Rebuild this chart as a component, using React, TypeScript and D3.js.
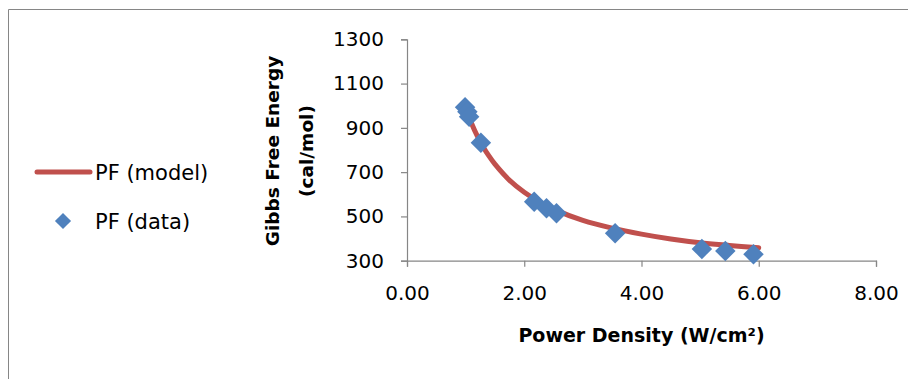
import * as d3 from "d3";
import { useEffect, useRef } from "react";

// measured points
const dataX = [0.99, 1.03, 1.06, 1.26, 2.17, 2.38, 2.55, 3.55, 5.03, 5.43, 5.91];
const dataY = [993, 973, 950, 833, 566, 537, 514, 424, 353, 344, 329];

// model curve
const modelX = [1.0, 1.1, 1.2, 1.3, 1.4, 1.5, 1.75, 2.0, 2.25, 2.5, 3.0, 3.5, 4.0, 4.5, 5.0, 5.5, 6.0];
const modelY = [992, 921, 863, 814, 772, 736, 663, 609, 567, 533, 482, 447, 420, 398, 381, 369, 358];

const xTicks = [0, 2, 4, 6, 8];
const yTicks = [300, 500, 700, 900, 1100, 1300];

const seriesNames = ["PF (model)", "PF (data)"];

const FONT = "'DejaVu Sans', sans-serif";
const AXIS_COLOR = "#868686";
const RED = "#C0504D";
const BLUE = "#4F81BD";

function App() {
	const ref = useRef<SVGSVGElement>(null);

	useEffect(() => {
		const svg = d3.select(ref.current);
		svg.selectAll("*").remove();

		const width = 908;
		const height = 371;

		// outer frame (only top and left edges are visible)
		svg.append("line")
			.attr("x1", 0.5).attr("y1", 1.5)
			.attr("x2", width).attr("y2", 1.5)
			.attr("stroke", AXIS_COLOR).attr("stroke-width", 1);
		svg.append("line")
			.attr("x1", 0.5).attr("y1", 1.5)
			.attr("x2", 0.5).attr("y2", height)
			.attr("stroke", AXIS_COLOR).attr("stroke-width", 1);

		const xScale = d3.scaleLinear().domain([0, 8]).range([399, 868]);
		const yScale = d3.scaleLinear().domain([300, 1300]).range([252.7, 31.3]);

		const xAxis = d3
			.axisBottom(xScale)
			.tickValues(xTicks)
			.tickSize(6)
			.tickPadding(19)
			.tickFormat(d3.format(".2f"));
		const yAxis = d3
			.axisLeft(yScale)
			.tickValues(yTicks)
			.tickSize(6)
			.tickPadding(17)
			.tickFormat(d3.format("d"));

		const gx = svg
			.append("g")
			.attr("transform", `translate(0,${yScale(300)})`)
			.call(xAxis);
		const gy = svg
			.append("g")
			.attr("transform", `translate(${xScale(0)},0)`)
			.call(yAxis);

		[gx, gy].forEach((g) => {
			g.select(".domain").attr("stroke", AXIS_COLOR).attr("stroke-width", 1.2);
			g.selectAll(".tick line").attr("stroke", AXIS_COLOR).attr("stroke-width", 1.2);
			g.selectAll(".tick text")
				.attr("fill", "#000")
				.style("font-family", FONT)
				.style("font-size", "20px");
		});

		// axis titles
		svg.append("text")
			.attr("x", xScale(4))
			.attr("y", 334)
			.attr("text-anchor", "middle")
			.style("font-family", FONT)
			.style("font-size", "19px")
			.style("font-weight", "bold")
			.text("Power Density (W/cm²)");

		const yTitle = svg
			.append("text")
			.attr("transform", `translate(265,143) rotate(-90)`)
			.attr("text-anchor", "middle")
			.style("font-family", FONT)
			.style("font-size", "18.5px")
			.style("font-weight", "bold");
		yTitle.append("tspan").attr("x", 0).attr("y", 6).text("Gibbs Free Energy");
		yTitle.append("tspan").attr("x", 0).attr("y", 40).text("(cal/mol)");

		// model line
		const line = d3
			.line<number>()
			.x((d, i) => xScale(modelX[i]))
			.y((d) => yScale(d))
			.curve(d3.curveCatmullRom);
		svg.append("path")
			.datum(modelY)
			.attr("d", line)
			.attr("fill", "none")
			.attr("stroke", RED)
			.attr("stroke-width", 5)
			.attr("stroke-linecap", "round");

		// data diamonds
		const diamond = d3.symbol().type(d3.symbolSquare).size(210);
		svg.selectAll(".pt")
			.data(dataY)
			.enter()
			.append("path")
			.attr("d", diamond)
			.attr("transform", (d, i) => `translate(${xScale(dataX[i])},${yScale(d)}) rotate(45)`)
			.attr("fill", BLUE);

		// legend
		const legend = svg.append("g");
		legend.append("line")
			.attr("x1", 29).attr("y1", 164)
			.attr("x2", 82).attr("y2", 164)
			.attr("stroke", RED)
			.attr("stroke-width", 5)
			.attr("stroke-linecap", "round");
		legend.append("text")
			.attr("x", 87).attr("y", 172)
			.style("font-family", FONT)
			.style("font-size", "21px")
			.text(seriesNames[0]);
		legend.append("path")
			.attr("d", d3.symbol().type(d3.symbolSquare).size(130))
			.attr("transform", "translate(55,213) rotate(45)")
			.attr("fill", BLUE);
		legend.append("text")
			.attr("x", 87).attr("y", 221)
			.style("font-family", FONT)
			.style("font-size", "21px")
			.text(seriesNames[1]);
	}, []);

	return <svg ref={ref} width={908} height={371} style={{ display: "block" }}></svg>;
}

export default App;
